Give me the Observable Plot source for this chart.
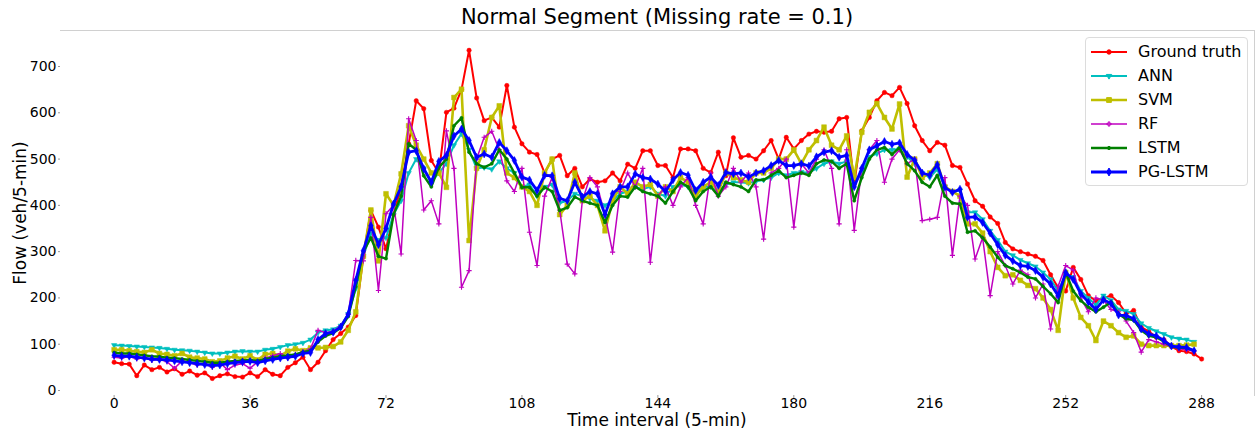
<!DOCTYPE html>
<html>
<head>
<meta charset="utf-8">
<script src="https://cdn.jsdelivr.net/npm/d3@7"></script>
<script src="https://cdn.jsdelivr.net/npm/@observablehq/plot@0.6"></script>
<style>
  html, body { margin: 0; padding: 0; background: #fff; }
  body { font-family: "DejaVu Sans", sans-serif; color: #000; }
  #wrap { position: relative; width: 1256px; height: 434px; overflow: hidden; }
  #title { position: absolute; left: 60px; width: 1194px; top: 6px; text-align: center; font-size: 21px; line-height: 22px; }
  #chart { position: absolute; left: 0; top: 29px; }
  #xlabel { position: absolute; left: 60px; width: 1194px; top: 412px; text-align: center; font-size: 17px; line-height: 17px; }
  #ylabel { position: absolute; left: 20px; top: 213px; font-size: 17px; line-height: 20px; white-space: nowrap; transform: translate(-50%, -50%) rotate(-90deg); }
  #legend { position: absolute; left: 1085px; top: 37px; width: 163px; height: 149px; border: 1px solid #dcdcdc; border-radius: 4px; background: rgba(255,255,255,0.85); box-sizing: border-box; }
  .row { position: absolute; left: 0; height: 20px; width: 160px; }
  .row svg { position: absolute; left: 5px; top: 0; }
  .row span { position: absolute; left: 52px; top: 0; font-size: 16px; line-height: 20px; white-space: nowrap; }
</style>
</head>
<body>
<div id="wrap">
  <div id="title">Normal Segment (Missing rate = 0.1)</div>
  <div id="chart"></div>
  <div id="xlabel">Time interval (5-min)</div>
  <div id="ylabel">Flow (veh/5-min)</div>
  <div id="legend"></div>
</div>
<script>
// time index sampled every 2 intervals (5-min each)
const timeStep = 2;
const xTicks = [0, 36, 72, 108, 144, 180, 216, 252, 288];
const yTicks = [0, 100, 200, 300, 400, 500, 600, 700];

const seriesNames = ["Ground truth", "ANN", "SVM", "RF", "LSTM", "PG-LSTM"];
const seriesColors = ["#ff0000", "#00bfbf", "#bfbf00", "#bf00bf", "#008000", "#0000ff"];

const groundTruth = [61,58,57,32,55,45,50,40,47,35,
 42,33,38,26,32,36,30,29,38,30,
 45,35,32,50,60,72,45,61,86,110,
 123,137,162,290,389,353,306,380,440,533,
 626,609,497,470,601,610,650,735,632,583,
 590,569,659,569,533,515,510,470,500,508,
 464,480,440,457,450,453,470,453,489,480,
 518,518,486,486,460,522,522,518,480,471,
 515,464,546,504,508,500,518,540,500,547,
 522,540,554,560,558,560,587,590,446,561,
 590,626,644,637,655,620,572,540,518,536,
 530,486,482,446,410,398,375,361,320,306,
 300,295,290,281,250,222,215,266,240,205,
 194,200,205,190,166,173,137,128,115,110,
 95,86,84,79,68];

const ann = [98,97,96,95,94,93,92,90,88,87,
 86,84,82,80,80,82,84,85,84,84,
 88,90,94,98,100,103,110,125,130,132,
 140,165,220,290,340,325,330,380,410,470,
 500,480,450,470,490,530,555,520,480,482,
 478,495,480,470,440,445,420,440,445,405,
 410,425,420,415,410,400,410,425,430,440,
 435,440,425,420,440,445,440,430,440,440,
 430,445,450,450,448,452,455,460,470,465,
 470,472,470,480,490,495,490,495,445,470,
 505,512,520,520,522,505,490,470,460,478,
 440,430,432,385,385,370,345,325,300,292,
 282,275,268,255,240,215,250,245,215,200,
 185,205,195,175,172,165,145,135,128,122,
 115,112,110,105];

const svm = [88,88,86,84,82,88,80,78,75,80,
 72,70,68,62,64,70,74,68,75,66,
 78,80,75,85,90,86,92,92,93,95,
 105,130,170,290,390,280,425,400,468,572,
 530,500,470,470,439,633,651,324,480,520,
 590,615,470,460,440,430,400,470,500,380,
 400,470,410,420,400,345,410,440,425,450,
 440,445,420,440,430,460,450,420,440,450,
 430,470,460,455,450,470,470,480,500,500,
 520,490,520,540,569,530,520,550,460,558,
 601,620,590,565,619,461,500,460,470,490,
 440,430,420,360,360,340,300,266,248,250,
 238,227,220,200,175,130,255,200,158,140,
 108,150,140,125,115,118,100,97,97,97,
 97,97,98,100];

const rf = [72,70,74,68,72,65,68,62,48,64,
 60,55,58,50,60,45,55,58,48,62,
 70,75,80,70,78,84,90,130,125,128,
 140,165,281,280,374,216,382,400,295,587,
 540,390,410,360,561,480,223,259,500,547,
 560,520,453,430,480,342,270,420,460,390,
 273,252,410,460,440,380,299,430,470,440,
 480,277,420,440,400,440,460,400,360,470,
 420,440,480,450,470,440,327,470,480,500,
 353,490,470,500,520,480,360,520,346,480,
 520,540,450,500,520,490,500,367,370,374,
 460,292,420,400,284,330,205,300,270,230,
 260,250,200,230,133,225,270,260,200,170,
 200,195,175,170,150,125,83,110,105,100,
 95,90,88,85];

const lstm = [82,80,80,78,76,74,73,71,70,68,
 66,64,62,60,60,62,64,65,66,64,
 68,71,74,76,78,83,86,105,118,124,
 135,160,225,300,330,290,285,380,420,533,
 520,464,440,482,500,572,589,515,490,482,
 490,520,500,470,439,439,420,439,430,389,
 395,418,410,405,400,363,400,420,418,440,
 430,425,420,405,430,450,440,410,430,440,
 420,450,445,440,430,455,455,465,475,460,
 465,470,465,490,498,495,480,490,410,460,
 500,520,525,510,525,490,475,450,440,465,
 420,405,403,342,345,330,310,288,270,263,
 255,245,241,225,209,190,255,215,194,180,
 170,180,191,165,155,152,130,118,115,106,
 95,92,92,86];

const pgLstm = [76,74,74,72,70,68,67,66,64,62,
 60,58,56,54,55,58,60,62,63,60,
 64,67,70,72,74,80,82,110,123,126,
 137,165,238,302,356,315,350,403,440,515,
 518,479,450,495,508,550,565,540,504,511,
 504,536,518,497,461,455,432,465,464,415,
 410,450,418,430,425,380,425,440,440,468,
 460,457,446,430,455,471,465,432,450,461,
 443,471,468,470,461,470,475,486,497,486,
 486,490,485,505,515,518,504,508,440,480,
 520,529,538,532,535,510,497,470,465,488,
 439,428,435,374,375,363,340,315,292,280,
 270,268,259,245,230,205,255,240,209,191,
 175,196,188,163,162,155,133,122,118,108,
 96,94,93,86];

const seriesValues = [groundTruth, ann, svm, rf, lstm, pgLstm];
const seriesStyle = [
  {width: 2.0, symbol: "circle", r: 2.2, filled: true, rotate: 0},
  {width: 2.0, symbol: "triangle", r: 2.0, filled: true, rotate: 180},
  {width: 2.6, symbol: "square", r: 2.7, filled: true, rotate: 0},
  {width: 1.5, symbol: "plus", r: 1.8, filled: false, rotate: 0},
  {width: 2.4, symbol: "circle", r: 1.6, filled: true, rotate: 0},
  {width: 2.8, symbol: "diamond", r: 2.4, filled: true, rotate: 0}
];

const tables = seriesValues.map((vals, k) =>
  vals.map((v, i) => ({t: i * timeStep, v, series: seriesNames[k]})));

const marks = [
  Plot.frame({anchor: "top", stroke: "#d0d0d0", strokeWidth: 1}),
  Plot.frame({anchor: "right", stroke: "#d0d0d0", strokeWidth: 1}),
  Plot.axisX({ticks: xTicks, tickSize: 3, tickPadding: 0, label: null, fontSize: 14, stroke: "#9a9a9a", tickFormat: d => String(d)}),
  Plot.axisY({ticks: yTicks, tickSize: 2, tickPadding: 2, label: null, fontSize: 14, stroke: "#9a9a9a", tickFormat: d => String(d)})
];
tables.forEach((rows, k) => {
  const st = seriesStyle[k];
  const c = seriesColors[k];
  marks.push(Plot.line(rows, {x: "t", y: "v", stroke: c, strokeWidth: st.width, strokeLinejoin: "round"}));
  marks.push(Plot.dot(rows, {x: "t", y: "v", symbol: st.symbol, r: st.r, rotate: st.rotate,
    fill: st.filled ? c : "none", stroke: c, strokeWidth: st.filled ? 0.5 : 1.1}));
});

const chart = Plot.plot({
  width: 1256,
  height: 405,
  marginLeft: 60,
  marginRight: 2,
  marginTop: 1,
  marginBottom: 39,
  x: {domain: [-14.2, 302]},
  y: {domain: [-10.8, 777.8]},
  style: {fontFamily: "DejaVu Sans, sans-serif", fontSize: "14px", color: "#000", background: "transparent", overflow: "visible"},
  marks
});
document.getElementById("chart").appendChild(chart);

// legend
const legend = document.getElementById("legend");
const ns = "http://www.w3.org/2000/svg";
const d3Symbols = {circle: d3.symbolCircle, triangle: d3.symbolTriangle, square: d3.symbolSquare, plus: d3.symbolCross, diamond: d3.symbolDiamond};
seriesNames.forEach((name, k) => {
  const row = document.createElement("div");
  row.className = "row";
  row.style.top = (4 + 24 * k) + "px";
  const svg = document.createElementNS(ns, "svg");
  svg.setAttribute("width", "40");
  svg.setAttribute("height", "20");
  const line = document.createElementNS(ns, "line");
  line.setAttribute("x1", "0"); line.setAttribute("x2", "36");
  line.setAttribute("y1", "10"); line.setAttribute("y2", "10");
  line.setAttribute("stroke", seriesColors[k]);
  line.setAttribute("stroke-width", seriesStyle[k].width);
  svg.appendChild(line);
  const sym = d3.symbol().type(d3Symbols[seriesStyle[k].symbol]).size(Math.PI * seriesStyle[k].r * seriesStyle[k].r);
  const p = document.createElementNS(ns, "path");
  p.setAttribute("d", sym());
  p.setAttribute("transform", `translate(18,10) rotate(${seriesStyle[k].rotate})`);
  p.setAttribute("fill", seriesStyle[k].filled ? seriesColors[k] : "none");
  p.setAttribute("stroke", seriesColors[k]);
  svg.appendChild(p);
  row.appendChild(svg);
  const span = document.createElement("span");
  span.textContent = name;
  row.appendChild(span);
  legend.appendChild(row);
});
</script>
</body>
</html>
